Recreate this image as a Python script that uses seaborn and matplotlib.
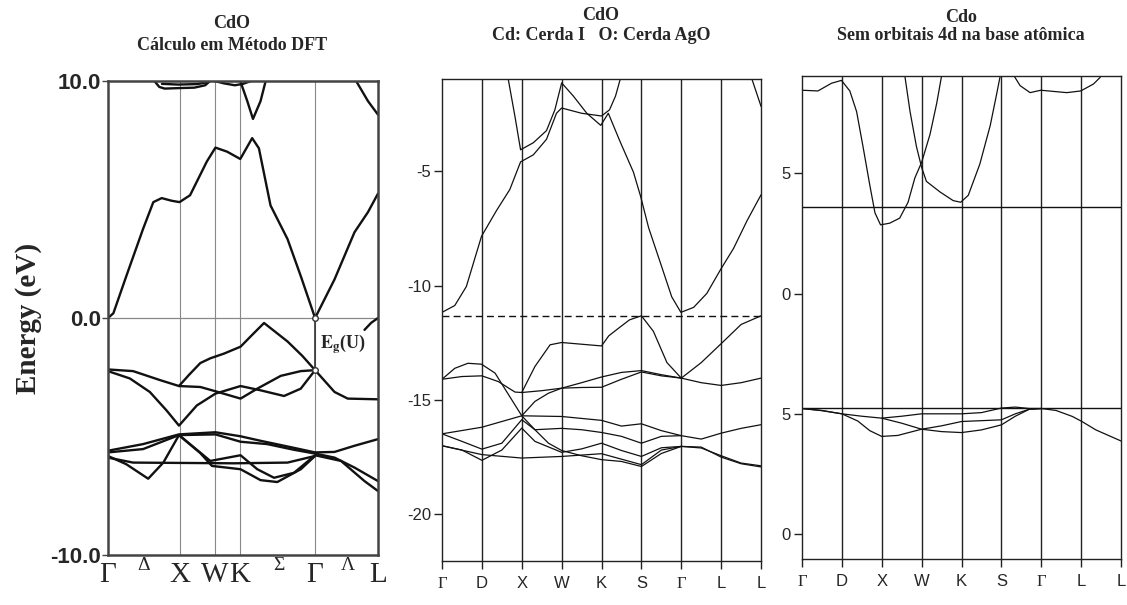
import seaborn as sns
import numpy as np
import pandas as pd
import matplotlib.pyplot as plt

# ---- panel 1 : CdO, DFT (k as fraction of the path) ----
p1_kpts = [0, 0.265, 0.395, 0.488, 0.767, 1.0]
p1_klabels = ['Γ', 'X', 'W', 'K', 'Γ', 'L']
p1_greek = ['Δ', 'Σ', 'Λ']
p1_greek_k = [0.13, 0.633, 0.889]

p1_c1_k = [0, 0.02, 0.068, 0.13, 0.168, 0.199, 0.235, 0.265, 0.304, 0.366, 0.398, 0.441, 0.49, 0.534, 0.559, 0.602, 0.665, 0.714, 0.767, 0.839, 0.913, 0.963, 1.0]
p1_c1_E = [0, 0.2, 1.77, 3.76, 4.89, 5.06, 4.95, 4.89, 5.18, 6.6, 7.19, 7.02, 6.71, 7.59, 7.16, 4.75, 3.33, 1.77, 0, 1.63, 3.62, 4.47, 5.25]
p1_t1_k = [0.172, 0.19, 0.21, 0.26, 0.32, 0.36, 0.378]
p1_t1_E = [10.0, 9.75, 9.68, 9.7, 9.72, 9.82, 10.0]
p1_t1b_k = [0.2, 0.26, 0.33, 0.37]
p1_t1b_E = [9.88, 9.85, 9.87, 9.95]
p1_t2_k = [0.395, 0.43, 0.47, 0.5, 0.53]
p1_t2_E = [10.0, 9.9, 9.82, 9.88, 10.0]
p1_t3_k = [0.49, 0.516, 0.537, 0.565, 0.584]
p1_t3_E = [10.0, 9.15, 8.4, 9.15, 10.0]
p1_t4_k = [0.919, 0.963, 1.0]
p1_t4_E = [10.0, 9.15, 8.58]

p1_va_k = [0, 0.093, 0.193, 0.263, 0.342, 0.398, 0.491, 0.553, 0.64, 0.714, 0.767]
p1_va_E = [-2.17, -2.24, -2.62, -2.87, -2.91, -3.09, -3.40, -2.98, -2.44, -2.24, -2.2]
p1_vb_k = [0, 0.081, 0.155, 0.217, 0.263, 0.329, 0.398, 0.491, 0.565, 0.652, 0.714, 0.767]
p1_vb_E = [-2.24, -2.55, -3.12, -3.9, -4.54, -3.69, -3.19, -2.87, -3.05, -3.29, -2.98, -2.2]
p1_v1_k = [0.263, 0.3, 0.342, 0.379, 0.43, 0.491, 0.535, 0.578, 0.665, 0.72, 0.767, 0.839, 0.888, 1.0]
p1_v1_E = [-2.87, -2.4, -1.9, -1.7, -1.5, -1.21, -0.7, -0.21, -0.99, -1.6, -2.2, -3.12, -3.40, -3.43]
p1_vs_k = [0.95, 0.975, 1.0]
p1_vs_E = [-0.5, -0.2, 0.0]

p1_dA_k = [0, 0.13, 0.263, 0.398, 0.491, 0.565, 0.665, 0.767, 0.839, 0.913, 1.0]
p1_dA_E = [-5.6, -5.32, -4.91, -4.82, -4.99, -5.18, -5.42, -5.67, -5.65, -5.39, -5.11]
p1_dB_k = [0, 0.13, 0.263, 0.398, 0.491, 0.59, 0.689, 0.767, 0.839, 0.913, 1.0]
p1_dB_E = [-5.67, -5.53, -4.94, -4.91, -5.22, -5.32, -5.56, -5.72, -5.89, -6.31, -6.88]
p1_dC_k = [0, 0.068, 0.149, 0.205, 0.263, 0.329, 0.379, 0.491, 0.553, 0.615, 0.689, 0.767, 0.863, 0.95, 1.0]
p1_dC_E = [-5.82, -6.17, -6.78, -6.1, -4.94, -5.56, -6.03, -5.79, -6.38, -6.74, -6.53, -5.79, -6.03, -6.88, -7.3]
p1_dD_k = [0, 0.093, 0.466, 0.665, 0.767]
p1_dD_E = [-5.89, -6.1, -6.13, -6.1, -5.82]
p1_dE_k = [0.263, 0.342, 0.385, 0.491, 0.565, 0.627, 0.714, 0.767]
p1_dE_E = [-4.94, -5.7, -6.24, -6.38, -6.84, -6.92, -6.38, -5.82]

gap_k = 0.767
gap_E = [0.0, -2.2]

# ---- panel 2 : CdO, Cerda basis (k index 0..8) ----
kpath_labels = ['Γ', 'D', 'X', 'W', 'K', 'S', 'Γ', 'L', 'L']
fermi2 = -11.32

p2_c1_k = [0, 0.32, 0.61, 0.99, 1.37, 1.70, 1.97, 2.29, 2.62, 2.87, 3.0, 3.5, 4.0, 4.2, 4.35, 4.47]
p2_c1_E = [-11.17, -10.87, -10.04, -7.84, -6.70, -5.79, -4.58, -4.27, -3.59, -2.45, -2.22, -2.45, -2.57, -2.3, -1.7, -0.95]
p2_c2_k = [1.66, 1.83, 1.97, 2.29, 2.62, 2.83, 3.0, 3.29, 3.63, 3.98, 4.17, 4.46, 4.80, 4.98, 5.18, 5.47, 5.76, 5.99, 6.31, 6.64, 6.99, 7.31, 7.65, 8.0]
p2_c2_E = [-0.95, -2.6, -4.05, -3.74, -3.21, -2.3, -1.12, -1.69, -2.45, -2.98, -2.45, -3.67, -5.03, -6.09, -7.46, -8.97, -10.49, -11.17, -10.95, -10.34, -9.28, -8.37, -7.15, -6.02]
p2_c3_k = [7.77, 8.0]
p2_c3_E = [-0.95, -2.15]

p2_va_k = [2, 2.33, 2.71, 3, 4, 4.18, 4.4, 4.7, 5, 5.3, 5.64, 6, 6.5, 7, 7.5, 8]
p2_va_E = [-14.68, -13.54, -12.59, -12.49, -12.64, -12.2, -11.9, -11.5, -11.32, -12.0, -13.37, -14.05, -13.37, -12.54, -11.7, -11.32]
p2_vb_k = [0, 0.32, 0.65, 0.99, 1.33, 1.62, 2, 2.33, 2.67, 3, 3.5, 4, 4.5, 5, 5.5, 6, 6.5, 7, 7.5, 8]
p2_vb_E = [-14.10, -13.62, -13.40, -13.44, -13.83, -14.64, -15.70, -15.07, -14.71, -14.49, -14.25, -14.0, -13.8, -13.72, -13.9, -14.05, -14.25, -14.37, -14.25, -14.05]
p2_vc_k = [0, 0.5, 1, 1.41, 1.83, 2, 2.5, 3, 3.5, 4, 4.5, 5, 5.5, 6]
p2_vc_E = [-14.10, -13.98, -13.95, -14.2, -14.66, -14.68, -14.6, -14.49, -14.46, -14.45, -14.1, -13.78, -13.95, -14.05]

p2_ba_k = [0, 1, 2, 3, 4, 4.5, 5, 5.5, 6, 6.5, 7, 7.5, 8]
p2_ba_E = [-16.49, -16.2, -15.70, -15.73, -15.9, -16.15, -16.05, -16.35, -16.57, -16.72, -16.46, -16.25, -16.09]
p2_bb_k = [0, 0.5, 1, 1.5, 2, 2.33, 3, 3.5, 4, 4.5, 5, 5.5, 6]
p2_bb_E = [-16.49, -16.82, -17.16, -16.9, -15.87, -16.31, -16.25, -16.31, -16.43, -16.6, -16.9, -16.6, -16.57]
p2_bc_k = [0, 0.5, 1, 1.5, 2, 2.33, 3, 3.5, 4, 4.5, 5, 5.5, 6, 6.5, 7, 7.5, 8]
p2_bc_E = [-17.01, -17.2, -17.65, -17.2, -16.24, -16.82, -17.30, -17.15, -16.90, -17.22, -17.48, -17.1, -17.04, -17.11, -17.45, -17.77, -17.89]
p2_bd_k = [0, 1, 2, 3, 4, 4.5, 5, 5.5, 6, 6.5, 7, 7.5, 8]
p2_bd_E = [-17.01, -17.4, -17.55, -17.48, -17.36, -17.6, -17.84, -17.2, -17.04, -17.07, -17.51, -17.8, -17.94]
p2_be_k = [2, 2.33, 2.67, 3, 3.5, 4, 4.5, 5, 5.5, 6]
p2_be_E = [-15.70, -16.31, -16.9, -17.22, -17.45, -17.62, -17.7, -17.92, -17.35, -17.04]

# ---- panel 3 : without 4d orbitals ----
p3_yticks = [5, 0, -5, -10]
p3_ylabels = ['5', '0', '5', '0']
p3_hlines = [3.59, -4.75]

p3_c1_k = [0, 0.4, 0.74, 0.99, 1.2, 1.37, 1.53, 1.7, 1.83, 1.97, 2.2, 2.45, 2.66, 2.83, 3.0, 3.21, 3.38, 3.5]
p3_c1_E = [8.46, 8.43, 8.75, 8.87, 8.43, 7.57, 6.12, 4.52, 3.36, 2.86, 2.93, 3.14, 3.8, 4.81, 5.46, 6.62, 7.93, 9.05]
p3_c2_k = [2.58, 2.71, 2.87, 3.0, 3.12, 3.46, 3.79, 3.98, 4.17, 4.46, 4.72, 4.88, 4.97]
p3_c2_E = [9.05, 7.57, 6.12, 5.25, 4.67, 4.23, 3.87, 3.80, 4.09, 5.39, 6.99, 8.29, 9.05]
p3_c3_k = [5.32, 5.47, 5.72, 5.99, 6.31, 6.64, 6.99, 7.31, 7.48]
p3_c3_E = [9.05, 8.65, 8.36, 8.46, 8.41, 8.36, 8.43, 8.72, 9.0]

p3_v1_k = [0, 0.5, 1, 1.5, 2, 2.5, 3, 4, 4.5, 5, 5.35, 5.7, 6]
p3_v1_E = [-4.78, -4.86, -5.0, -5.1, -5.18, -5.1, -5.0, -5.0, -4.95, -4.76, -4.72, -4.78, -4.78]
p3_v2_k = [0, 0.5, 1, 1.4, 1.7, 2, 2.4, 3, 3.5, 4, 5, 5.35, 5.7, 6]
p3_v2_E = [-4.78, -4.87, -5.0, -5.3, -5.7, -5.94, -5.9, -5.64, -5.5, -5.32, -5.25, -5.0, -4.81, -4.78]
p3_v3_k = [2, 2.5, 3, 3.5, 4, 4.5, 5, 5.35, 5.7, 6]
p3_v3_E = [-5.18, -5.39, -5.64, -5.74, -5.78, -5.67, -5.46, -5.1, -4.81, -4.78]
p3_v4_k = [6, 6.37, 6.78, 7.02, 7.37, 8]
p3_v4_E = [-4.78, -4.86, -5.11, -5.32, -5.67, -6.13]


def bands_frame(bands):
    rows = []
    for name, (ks, es) in bands.items():
        for k, e in zip(ks, es):
            rows.append((name, k, e))
    return pd.DataFrame(rows, columns=['band', 'k', 'E'])


sns.set_style('white')
plt.rcParams['font.family'] = ['Liberation Sans', 'DejaVu Sans']
plt.rcParams['mathtext.fontset'] = 'stix'
serif = ['Liberation Serif', 'DejaVu Serif']

fig = plt.figure(figsize=(11.27, 6.05), dpi=100)
ax1 = fig.add_axes([0.0958, 0.0826, 0.2396, 0.7835])
ax2 = fig.add_axes([0.3922, 0.0727, 0.2831, 0.7967])
ax3 = fig.add_axes([0.7116, 0.0760, 0.2831, 0.7983])

# panel 1
df1 = bands_frame({
    'c1': (p1_c1_k, p1_c1_E), 't1': (p1_t1_k, p1_t1_E), 't1b': (p1_t1b_k, p1_t1b_E),
    't2': (p1_t2_k, p1_t2_E), 't3': (p1_t3_k, p1_t3_E), 't4': (p1_t4_k, p1_t4_E),
    'va': (p1_va_k, p1_va_E), 'vb': (p1_vb_k, p1_vb_E), 'v1': (p1_v1_k, p1_v1_E),
    'vs': (p1_vs_k, p1_vs_E), 'dA': (p1_dA_k, p1_dA_E), 'dB': (p1_dB_k, p1_dB_E),
    'dC': (p1_dC_k, p1_dC_E), 'dD': (p1_dD_k, p1_dD_E), 'dE': (p1_dE_k, p1_dE_E),
})
for k in p1_kpts[1:-1]:
    ax1.axvline(k, color='#888888', lw=0.8, zorder=1)
ax1.axhline(0, color='#888888', lw=0.9, zorder=1)
sns.lineplot(data=df1, x='k', y='E', units='band', estimator=None, sort=False,
             color='#111111', lw=1.7, ax=ax1, legend=False)
ax1.plot([gap_k, gap_k], gap_E, color='#333333', lw=1.2, marker='o', ms=4,
         mfc='white', mec='#333333', zorder=4)
ax1.text(gap_k + 0.02, -1.1, r'$\mathbf{E_g}$(U)', family=serif, fontweight='bold',
         fontsize=13, va='center', ha='left')
ax1.set_xlim(0, 1)
ax1.set_ylim(-10, 10)
ax1.set_yticks([10, 0, -10])
ax1.set_yticklabels(['10.0', '0.0', '-10.0'], fontsize=16, fontweight='bold')
ax1.set_xticks(p1_kpts)
ax1.set_xticklabels(p1_klabels, family=serif, fontsize=21)
ax1.tick_params(axis='x', length=0, pad=5)
ax1.tick_params(axis='y', left=True, length=4, width=1, color='#444444', pad=1)
for lab, k in zip(p1_greek, p1_greek_k):
    ax1.text(k, -0.022, lab, transform=ax1.get_xaxis_transform(), family=serif,
             fontsize=14, ha='center', va='center')
ax1.set_xlabel('')
ax1.set_ylabel('Energy (eV)', family=serif, fontweight='bold', fontsize=21, labelpad=6)
for s in ax1.spines.values():
    s.set_color('#444444')
    s.set_linewidth(1.8)

# panel 2
df2 = bands_frame({
    'c1': (p2_c1_k, p2_c1_E), 'c2': (p2_c2_k, p2_c2_E), 'c3': (p2_c3_k, p2_c3_E),
    'va': (p2_va_k, p2_va_E), 'vb': (p2_vb_k, p2_vb_E), 'vc': (p2_vc_k, p2_vc_E),
    'ba': (p2_ba_k, p2_ba_E), 'bb': (p2_bb_k, p2_bb_E), 'bc': (p2_bc_k, p2_bc_E),
    'bd': (p2_bd_k, p2_bd_E), 'be': (p2_be_k, p2_be_E),
})
# panel 3
df3 = bands_frame({
    'c1': (p3_c1_k, p3_c1_E), 'c2': (p3_c2_k, p3_c2_E), 'c3': (p3_c3_k, p3_c3_E),
    'v1': (p3_v1_k, p3_v1_E), 'v2': (p3_v2_k, p3_v2_E), 'v3': (p3_v3_k, p3_v3_E),
    'v4': (p3_v4_k, p3_v4_E),
})

for ax, df in [(ax2, df2), (ax3, df3)]:
    for k in range(1, len(kpath_labels) - 1):
        ax.axvline(k, color='#222222', lw=1.0, zorder=1)
    sns.lineplot(data=df, x='k', y='E', units='band', estimator=None, sort=False,
                 color='#111111', lw=0.9, ax=ax, legend=False)
    ax.set_xlim(0, len(kpath_labels) - 1)
    ax.set_xticks(range(len(kpath_labels)))
    ax.set_xticklabels(kpath_labels, fontsize=12)
    for t in ax.get_xticklabels():
        if t.get_text() == 'Γ':
            t.set_family(serif)
    ax.tick_params(axis='x', bottom=True, length=6, width=1, color='#222222', pad=5)
    ax.tick_params(axis='y', left=True, length=6, width=1, color='#222222', pad=2, labelsize=12)
    ax.set_xlabel('')
    ax.set_ylabel('')
    for s in ax.spines.values():
        s.set_color('#222222')
        s.set_linewidth(1.0)

ax2.axhline(fermi2, color='#111111', lw=1.0, ls=(0, (5, 3)))
ax2.set_ylim(-22.06, -0.95)
ax2.set_yticks([-5, -10, -15, -20])
ax2.set_yticklabels(['-5', '-10', '-15', '-20'])

for h in p3_hlines:
    ax3.axhline(h, color='#111111', lw=1.0)
ax3.set_ylim(-11.04, 9.05)
ax3.set_yticks(p3_yticks)
ax3.set_yticklabels(p3_ylabels)

# titles
W, H = 1127, 605
tkw = dict(family=serif, fontweight='bold', fontsize=13, ha='center', va='center')
fig.text(232 / W, 1 - 24 / H, 'CdO', **tkw)
fig.text(232 / W, 1 - 45 / H, 'Cálculo em Método DFT', **tkw)
fig.text(601 / W, 1 - 16 / H, 'CdO', **tkw)
fig.text(601 / W, 1 - 35 / H, 'Cd: Cerda I   O: Cerda AgO', **tkw)
fig.text(961 / W, 1 - 17 / H, 'Cdo', **tkw)
fig.text(961 / W, 1 - 36 / H, 'Sem orbitais 4d na base atômica', **tkw)

fig.savefig('out.png', dpi=100, facecolor='white')
